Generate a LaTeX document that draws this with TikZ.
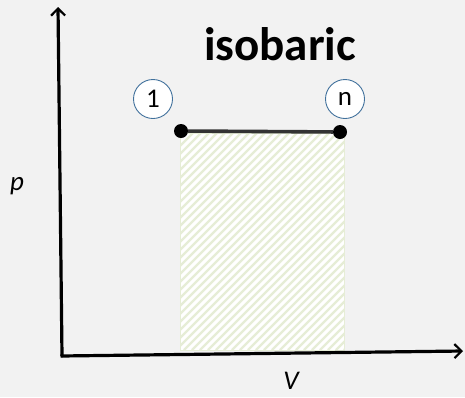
\documentclass[tikz,border=0pt]{standalone}
\usepackage{fontspec}
\setmainfont{Carlito}
\usetikzlibrary{arrows.meta,patterns}
\definecolor{bg}{HTML}{F2F2F2}
\definecolor{hatch}{HTML}{E6EDD6}
\definecolor{circ}{HTML}{41719C}
\definecolor{line}{HTML}{333333}
\begin{document}
\begin{tikzpicture}[x=1pt,y=-1pt,
  axis/.style={line width=3.2pt,-{Straight Barb[length=7pt,width=14pt,line width=2.2pt]}},
  state/.style={circle,draw=circ,fill=white,line width=0.9pt,minimum size=39pt,inner sep=0pt,font=\fontsize{27}{27}\selectfont},
  dot/.style={circle,fill=black,minimum size=14pt,inner sep=0pt}]
\fill[bg] (0,0) rectangle (465,397);
\useasboundingbox (0,0) rectangle (465,397);
% hatched area
\fill[white] (180,133) rectangle (344,350);
\begin{scope}
\clip (180,133) rectangle (344,350);
\foreach \k in {0,8,...,420} {
  \draw[hatch,line width=2.4pt] (180+\k-220,350) -- (180+\k,130);
}
\end{scope}
\draw[hatch,line width=1pt] (180,133) rectangle (344,350);
% axes
\coordinate (O) at (62,356);
\coordinate (Ytop) at (58,7);
\coordinate (Xend) at (463,351);
\draw[axis,line cap=round] (O) -- (Ytop);
\draw[axis] ([xshift=-1.5pt]O) -- (Xend);
% isobar
\node[dot] (a) at (181,131) {};
\node[dot] (b) at (340,132) {};
\draw[line,line width=3.6pt] (a) -- (b);
\node[state] (s1) at (153,99) {1};
\node[state] (sn) at (345,99) {n};
\node[font=\bfseries\fontsize{47}{47}\selectfont] (t) at (280,44) {isobaric};
\node[font=\itshape\fontsize{27}{27}\selectfont] (p) at (17,186) {p};
\node[font=\itshape\fontsize{27}{27}\selectfont] (v) at (291,381) {V};
\end{tikzpicture}
\end{document}
